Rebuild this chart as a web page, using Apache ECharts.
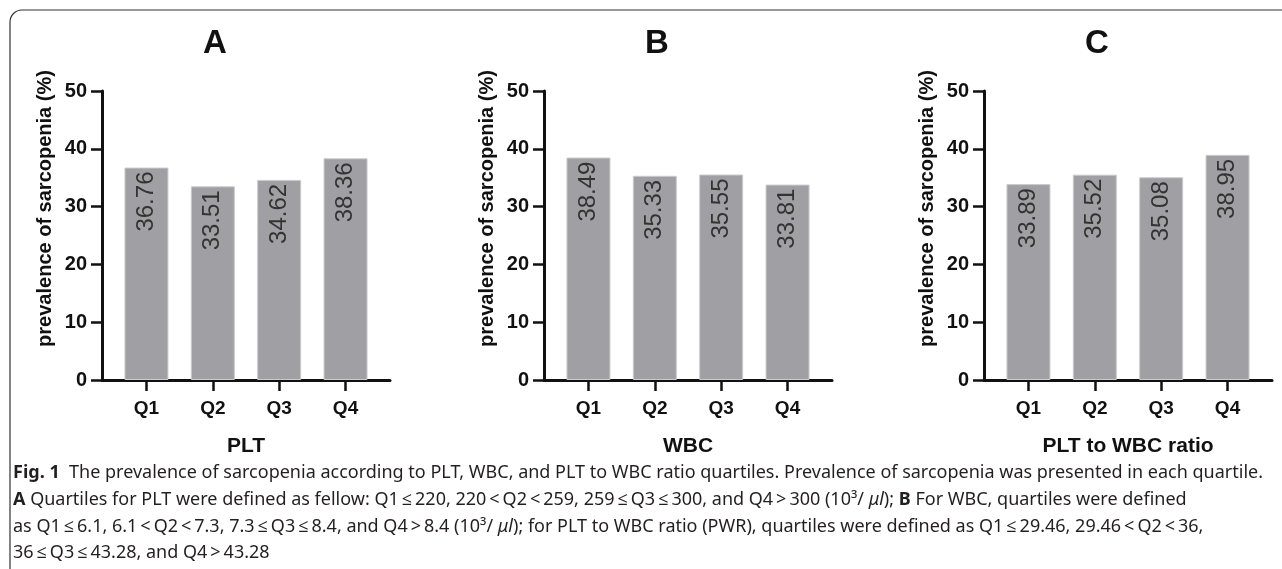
<!DOCTYPE html>
<html>
<head>
<meta charset="utf-8">
<script src="https://cdn.jsdelivr.net/npm/echarts@6/dist/echarts.min.js"></script>
<style>
  html, body { margin: 0; padding: 0; background: #fff; }
  #fig { width: 1282px; height: 569px; }
</style>
</head>
<body>
<div id="fig"></div>
<script>
// data
var quartiles = ['Q1', 'Q2', 'Q3', 'Q4'];
var pltPrev = [36.76, 33.51, 34.62, 38.36];
var wbcPrev = [38.49, 35.33, 35.55, 33.81];
var pwrPrev = [33.89, 35.52, 35.08, 38.95];
var panelLetters = ['A', 'B', 'C'];
var xNames = ['PLT', 'WBC', 'PLT to WBC ratio'];
var yName = 'prevalence of sarcopenia (%)';
var yMin = 0, yMax = 50, yStep = 10;

var captionLines = [
  '{b|Fig. 1}  The prevalence of sarcopenia according to PLT, WBC, and PLT to WBC ratio quartiles. Prevalence of sarcopenia was presented in each quartile.',
  '{b|A} Quartiles for PLT were defined as fellow: Q1\u2009≤\u2009220, 220\u2009<\u2009Q2\u2009<\u2009259, 259\u2009≤\u2009Q3\u2009≤\u2009300, and Q4\u2009>\u2009300 (10³/ {i|μl}); {b|B} For WBC, quartiles were defined',
  'as Q1\u2009≤\u20096.1, 6.1\u2009<\u2009Q2\u2009<\u20097.3, 7.3\u2009≤\u2009Q3\u2009≤\u20098.4, and Q4\u2009>\u20098.4 (10³/ {i|μl}); for PLT to WBC ratio (PWR), quartiles were defined as Q1\u2009≤\u200929.46, 29.46\u2009<\u2009Q2\u2009<\u200936,',
  '36\u2009≤\u2009Q3\u2009≤\u200943.28, and Q4\u2009>\u200943.28'
];

var chart = echarts.init(document.getElementById('fig'));

var font = 'Liberation Sans, Arial, sans-serif';
var capFont = 'Noto Sans, Open Sans, sans-serif';
var gridLefts = [102, 544, 984];
var gridW = 288;
var allData = [pltPrev, wbcPrev, pwrPrev];

var grids = [], xAxes = [], yAxes = [], series = [], titles = [];

for (var i = 0; i < 3; i++) {
  grids.push({ left: gridLefts[i], width: gridW, top: 91, height: 289 });

  xAxes.push({
    gridIndex: i,
    type: 'value',
    min: 0.33,
    max: 4.67,
    name: xNames[i],
    nameLocation: 'middle',
    nameGap: 56,
    nameTextStyle: { fontFamily: font, fontWeight: 'bold', fontSize: 21, color: '#111' },
    axisLine: { show: true, lineStyle: { color: '#111', width: 3 } },
    axisTick: { show: true, length: 11, customValues: [1, 2, 3, 4], lineStyle: { color: '#111', width: 2.5 } },
    axisLabel: {
      customValues: [1, 2, 3, 4],
      margin: 19,
      fontFamily: font, fontWeight: 'bold', fontSize: 19, color: '#111',
      formatter: function (v) { return quartiles[Math.round(v) - 1]; }
    },
    splitLine: { show: false }
  });

  yAxes.push({
    gridIndex: i,
    type: 'value',
    min: yMin, max: yMax, interval: yStep,
    name: yName,
    nameLocation: 'middle',
    nameGap: 47,
    nameTextStyle: { fontFamily: font, fontWeight: 'bold', fontSize: 20, color: '#111', padding: [0, 0, 0, 54] },
    axisLine: { show: true, lineStyle: { color: '#111', width: 3 } },
    axisTick: { show: true, length: 11, lineStyle: { color: '#111', width: 2.5 } },
    axisLabel: { margin: 15, fontFamily: font, fontWeight: 'bold', fontSize: 20, color: '#111' },
    splitLine: { show: false }
  });

  series.push({
    type: 'bar',
    xAxisIndex: i,
    yAxisIndex: i,
    barWidth: 44,
    data: allData[i].map(function (v, k) { return [k + 1, v]; }),
    itemStyle: { color: '#a0a0a4', borderColor: '#cbcbcd', borderWidth: 1 },
    label: {
      show: true,
      position: 'insideTop',
      distance: 4,
      rotate: 90,
      align: 'right',
      verticalAlign: 'middle',
      fontFamily: font,
      fontSize: 24,
      color: '#333',
      formatter: function (p) { return p.value[1].toFixed(2); }
    }
  });

  titles.push({
    text: panelLetters[i],
    left: gridLefts[i] + 108,
    top: 22,
    textAlign: 'center',
    textStyle: { fontFamily: font, fontWeight: 'bold', fontSize: 33, color: '#111' }
  });
}

var graphics = [{
  type: 'rect',
  shape: { x: 10, y: 10, width: 1400, height: 700, r: 12 },
  style: { fill: 'none', stroke: '#333', lineWidth: 1.2 },
  silent: true
}];

var lineY = [473, 500, 527, 553];
captionLines.forEach(function (t, k) {
  graphics.push({
    type: 'text',
    x: 13,
    y: lineY[k],
    style: {
      text: t,
      fontFamily: capFont,
      fontSize: 18,
      fill: '#231f20',
      verticalAlign: 'middle',
      rich: {
        b: { fontFamily: capFont, fontSize: 18, fontWeight: 'bold', color: '#231f20' },
        i: { fontFamily: capFont, fontSize: 18, fontStyle: 'italic', color: '#231f20' }
      }
    }
  });
});

chart.setOption({
  animation: false,
  backgroundColor: '#fff',
  title: titles,
  grid: grids,
  xAxis: xAxes,
  yAxis: yAxes,
  series: series,
  graphic: graphics
});
</script>
</body>
</html>
